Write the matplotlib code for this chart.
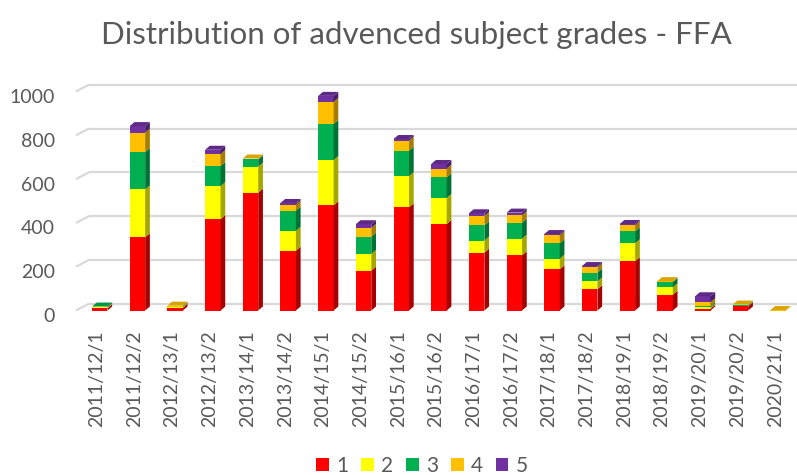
import matplotlib
matplotlib.use("Agg")
import matplotlib.pyplot as plt
from matplotlib.patches import Polygon, Patch
import matplotlib.transforms as mtransforms
import matplotlib.colors as mcolors
import numpy as np

# ---------------- data ----------------
categories = ["2011/12/1", "2011/12/2", "2012/13/1", "2012/13/2", "2013/14/1",
              "2013/14/2", "2014/15/1", "2014/15/2", "2015/16/1", "2015/16/2",
              "2016/17/1", "2016/17/2", "2017/18/1", "2017/18/2", "2018/19/1",
              "2018/19/2", "2019/20/1", "2019/20/2", "2020/21/1"]
grade_1 = [10, 334, 12, 417, 538, 273, 480, 182, 471, 395, 264, 252, 188, 97, 225, 72, 8, 19, 0]
grade_2 = [4, 219, 3, 151, 119, 91, 207, 76, 143, 119, 55, 76, 49, 36, 82, 34, 6, 1, 0]
grade_3 = [4, 171, 3, 92, 33, 92, 165, 79, 116, 94, 70, 73, 70, 40, 55, 24, 6, 3, 0]
grade_4 = [0, 88, 4, 54, 4, 27, 100, 40, 45, 40, 43, 34, 36, 24, 27, 4, 18, 4, 2]
grade_5 = [0, 30, 0, 20, 0, 8, 28, 17, 8, 21, 12, 12, 6, 6, 6, 0, 27, 0, 0]
series_labels = ["1", "2", "3", "4", "5"]
series_colors = ["#FF0000", "#FFFF00", "#00B050", "#FFC000", "#7030A0"]
y_ticks = [0, 200, 400, 600, 800, 1000]
title = "Distribution of advenced subject grades - FFA"

series = [grade_1, grade_2, grade_3, grade_4, grade_5]

# ---------------- layout ----------------
W, H, DPI = 797, 475, 100
plt.rcParams['font.family'] = ['Lato', 'DejaVu Sans']
TXT = "#595959"

fig = plt.figure(figsize=(W / DPI, H / DPI), dpi=DPI)
ax_left, ax_bottom, ax_w, ax_h = 76, 164.5, 721, 219
ax = fig.add_axes([ax_left / W, ax_bottom / H, ax_w / W, ax_h / H])
xmin, xmax = -0.63, 18.5
ax.set_xlim(xmin, xmax)
ax.set_ylim(0, 1000)
px_x = ax_w / (xmax - xmin)       # pixels per x data unit
px_y = ax_h / 1000.0              # pixels per y data unit

def dx(px):
    return px / px_x

def dy(px):
    return px / px_y

# back wall gridlines (with left-wall slant)
wall_dx, wall_dy = dx(13), dy(6.8)
for v in y_ticks:
    ax.plot([xmin, xmin + wall_dx], [v, v + wall_dy], color="#D9D9D9", lw=1.6,
            clip_on=False, zorder=1, solid_capstyle='butt')
    ax.plot([xmin + wall_dx, xmax + wall_dx], [v + wall_dy, v + wall_dy],
            color="#D9D9D9", lw=1.6, clip_on=False, zorder=1, solid_capstyle='butt')

# bars
x = np.arange(len(categories))
bw = 0.41
bar_dx, bar_dy = dx(4.7), dy(4.0)

def shade(c, f):
    r, g, b = mcolors.to_rgb(c)
    return (r * f, g * f, b * f)

bottoms = np.zeros(len(categories))
for vals, col, lab in zip(series, series_colors, series_labels):
    vals = np.array(vals, dtype=float)
    ax.bar(x, vals, width=bw, bottom=bottoms, color=col, edgecolor='none',
           zorder=3, label=lab)
    for xi, b, v in zip(x, bottoms, vals):
        if v <= 0:
            continue
        xr = xi + bw / 2
        side = Polygon([(xr, b), (xr + bar_dx, b + bar_dy),
                        (xr + bar_dx, b + v + bar_dy), (xr, b + v)],
                       closed=True, facecolor=shade(col, 0.65), edgecolor='none',
                       zorder=3, clip_on=False)
        ax.add_patch(side)
    bottoms = bottoms + vals

# top faces
for xi in x:
    total = sum(s[xi] for s in series)
    top_col = None
    for s, col in zip(series, series_colors):
        if s[xi] > 0:
            top_col = col
    if top_col is None:
        continue
    xl, xr = xi - bw / 2, xi + bw / 2
    top = Polygon([(xl, total), (xr, total), (xr + bar_dx, total + bar_dy),
                   (xl + bar_dx, total + bar_dy)], closed=True,
                  facecolor=shade(top_col, 0.85), edgecolor='none', zorder=4,
                  clip_on=False)
    ax.add_patch(top)

# axes styling
for sp in ax.spines.values():
    sp.set_visible(False)
ax.set_yticks(y_ticks)
ax.set_yticklabels([str(v) for v in y_ticks])
ax.tick_params(axis='y', length=0, pad=15, labelsize=14, labelcolor=TXT)
ax.set_xticks(x)
ax.set_xticklabels(categories, rotation=90)
ax.tick_params(axis='x', length=0, pad=14, labelsize=14, labelcolor=TXT)
off = mtransforms.ScaledTranslation(0, -4.5 / DPI, fig.dpi_scale_trans)
for lbl in ax.get_yticklabels():
    lbl.set_transform(lbl.get_transform() + off)
offx = mtransforms.ScaledTranslation(-3 / DPI, 0, fig.dpi_scale_trans)
for lbl in ax.get_xticklabels():
    lbl.set_transform(lbl.get_transform() + offx)

# title
fig.text(416 / W, 1 - 35 / H, title, ha='center', va='center', fontsize=22.5, color=TXT)

# legend
handles = [Patch(facecolor=c, edgecolor='none') for c in series_colors]
fig.legend(handles, series_labels, loc='center', bbox_to_anchor=(422 / W, 1 - 466 / H),
           ncol=5, frameon=False, fontsize=15, handlelength=0.62, handleheight=0.62,
           handletextpad=0.35, columnspacing=0.6, labelcolor=TXT)

fig.savefig("out.png", dpi=DPI)
